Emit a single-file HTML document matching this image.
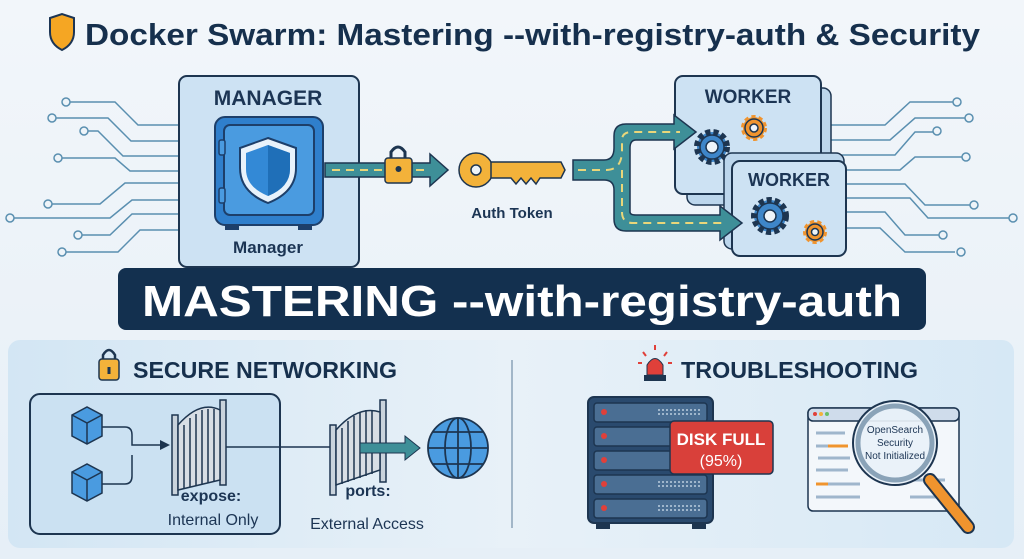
<!DOCTYPE html>
<html><head><meta charset="utf-8"><style>
html,body{margin:0;padding:0;width:1024px;height:559px;overflow:hidden;background:#eef4f9}
svg{display:block}
text{font-family:"Liberation Sans",sans-serif;font-weight:bold}
</style></head><body>
<svg width="1024" height="559" viewBox="0 0 1024 559" xmlns="http://www.w3.org/2000/svg">
<defs>
<linearGradient id="bg" x1="0" y1="0" x2="0" y2="1"><stop offset="0" stop-color="#f2f6fa"/><stop offset="1" stop-color="#e6eff7"/></linearGradient>
<linearGradient id="pn" x1="0" y1="0" x2="1" y2="0"><stop offset="0" stop-color="#d3e6f4"/><stop offset="0.5" stop-color="#e8f1f8"/><stop offset="1" stop-color="#d6e8f5"/></linearGradient>
</defs>
<rect width="1024" height="559" fill="url(#bg)"/>
<!-- title -->
<path d="M50 18 L62 14 L74 18 L74 32 Q74 44 62 50 Q50 44 50 32 Z" fill="#f5a623" stroke="#1c3554" stroke-width="2"/>
<text x="85" y="45" font-size="31" fill="#16304d" textLength="895" lengthAdjust="spacingAndGlyphs">Docker Swarm: Mastering --with-registry-auth &amp; Security</text>
<!-- left circuits -->
<g stroke="#5a8fb0" stroke-width="1.5" fill="none">
<path d="M66 102 H115 L138 125 H178"/><path d="M52 118 H108 L131 141 H178"/><path d="M84 131 H98 L123 156 H178"/>
<path d="M58 158 H115 L130 171 H178"/><path d="M48 204 H100 L125 183 H178"/><path d="M12 218 H110 L132 200 H178"/>
<path d="M78 235 H110 L132 214 H178"/><path d="M62 252 H118 L140 230 H178"/>
</g>
<g fill="#eef4f9" stroke="#5a8fb0" stroke-width="1.5">
<circle cx="66" cy="102" r="4"/><circle cx="52" cy="118" r="4"/><circle cx="84" cy="131" r="4"/><circle cx="58" cy="158" r="4"/><circle cx="48" cy="204" r="4"/><circle cx="10" cy="218" r="4"/><circle cx="78" cy="235" r="4"/><circle cx="62" cy="252" r="4"/>
</g>
<!-- right circuits -->
<g stroke="#5a8fb0" stroke-width="1.5" fill="none">
<path d="M830 125 H885 L910 102 H955"/><path d="M830 140 H890 L915 118 H967"/><path d="M830 155 H895 L915 132 H935"/>
<path d="M845 170 H900 L915 157 H965"/><path d="M845 184 H905 L925 205 H972"/><path d="M845 198 H910 L928 218 H1010"/>
<path d="M845 212 H885 L905 235 H940"/><path d="M845 228 H880 L905 252 H955"/>
</g>
<g fill="#eef4f9" stroke="#5a8fb0" stroke-width="1.5">
<circle cx="957" cy="102" r="4"/><circle cx="969" cy="118" r="4"/><circle cx="937" cy="131" r="4"/><circle cx="966" cy="157" r="4"/><circle cx="974" cy="205" r="4"/><circle cx="1013" cy="218" r="4"/><circle cx="943" cy="235" r="4"/><circle cx="961" cy="252" r="4"/>
</g>
<!-- manager -->
<rect x="179" y="76" width="180" height="191" rx="8" fill="#cde2f3" stroke="#1d3550" stroke-width="2"/>
<text x="268" y="105" font-size="21" fill="#1c3554" text-anchor="middle">MANAGER</text>
<rect x="215" y="117" width="108" height="108" rx="10" fill="#2f7fcc" stroke="#1d3f6a" stroke-width="2"/>
<rect x="224" y="125" width="90" height="90" rx="6" fill="#4a9be0" stroke="#1d3f6a" stroke-width="2"/>
<rect x="219" y="140" width="6" height="15" rx="2" fill="#4a9be0" stroke="#1d3f6a" stroke-width="1.5"/>
<rect x="219" y="188" width="6" height="15" rx="2" fill="#4a9be0" stroke="#1d3f6a" stroke-width="1.5"/>
<rect x="225" y="225" width="14" height="5" fill="#1d3f6a"/><rect x="298" y="225" width="14" height="5" fill="#1d3f6a"/>
<path d="M268 138 L296 148 L296 168 Q296 192 268 203 Q240 192 240 168 L240 148 Z" fill="#e8f2fb" stroke="#1d3f6a" stroke-width="2"/>
<path d="M268 145 L290 153 L290 169 Q290 187 268 196 Q246 187 246 169 L246 153 Z" fill="#3389d6"/>
<path d="M268 145 L290 153 L290 169 Q290 187 268 196 Z" fill="#1f6fb8"/>
<text x="268" y="253" font-size="17" fill="#1c3554" text-anchor="middle">Manager</text>
<!-- arrow to key -->
<path d="M325 163 H430 V154 L448 170 L430 186 V177 H325 Z" fill="#3e8f98" stroke="#1d3550" stroke-width="1.5"/>
<path d="M332 170 H430" stroke="#e9d67a" stroke-width="2" stroke-dasharray="8 6"/>
<path d="M391 160 V152 Q398 142 405 152 V160" fill="none" stroke="#1d3550" stroke-width="3"/>
<rect x="385" y="158" width="27" height="25" rx="3" fill="#f3b23a" stroke="#1d3550" stroke-width="1.5"/>
<circle cx="398.5" cy="169" r="3" fill="#1d3550"/>
<!-- key -->
<circle cx="476" cy="170" r="17" fill="#f3b23a" stroke="#1d3550" stroke-width="1.5"/>
<circle cx="476" cy="170" r="5" fill="#eef4f9" stroke="#1d3550" stroke-width="1.5"/>
<path d="M491 162 H561 L565 170 L561 178 H540 L536 184 L531 178 L526 184 L521 178 L516 184 L511 178 H491 Z" fill="#f3b23a" stroke="#1d3550" stroke-width="1.5"/>
<text x="512" y="218" font-size="15" fill="#1c3554" text-anchor="middle">Auth Token</text>
<!-- workers -->
<rect x="687" y="88" width="144" height="117" rx="8" fill="#bcd6ec" stroke="#1d3550" stroke-width="1.5"/>
<rect x="675" y="76" width="146" height="118" rx="8" fill="#cde2f3" stroke="#1d3550" stroke-width="2"/>
<text x="748" y="103" font-size="19" fill="#1c3554" text-anchor="middle">WORKER</text>
<g stroke="#1d3550" stroke-width="1.5">
<circle cx="712" cy="147" r="15" fill="#3e86c9" stroke-dasharray="5 3" stroke-width="6"/><circle cx="712" cy="147" r="12" fill="#3e86c9"/><circle cx="712" cy="147" r="6" fill="#eef4f9"/>
<circle cx="754" cy="128" r="11" fill="#f0942e" stroke="#f0942e" stroke-width="4" stroke-dasharray="4 3"/><circle cx="754" cy="128" r="9" fill="#f0942e"/><circle cx="754" cy="128" r="4" fill="#eef4f9"/>
</g>
<rect x="724" y="153" width="120" height="96" rx="8" fill="#bcd6ec" stroke="#1d3550" stroke-width="1.5"/>
<rect x="732" y="161" width="114" height="95" rx="8" fill="#cde2f3" stroke="#1d3550" stroke-width="2"/>
<text x="789" y="186" font-size="18" fill="#1c3554" text-anchor="middle">WORKER</text>
<g stroke="#1d3550" stroke-width="1.5">
<circle cx="770" cy="216" r="16" fill="#3e86c9" stroke-dasharray="5 3" stroke-width="6"/><circle cx="770" cy="216" r="13" fill="#3e86c9"/><circle cx="770" cy="216" r="6" fill="#eef4f9"/>
<circle cx="815" cy="232" r="10" fill="#f0942e" stroke="#f0942e" stroke-width="4" stroke-dasharray="4 3"/><circle cx="815" cy="232" r="8" fill="#f0942e"/><circle cx="815" cy="232" r="3.5" fill="#eef4f9"/>
</g>
<!-- road (on top) -->
<path d="M573 160 H604 Q614 160 614 148 V136 Q614 124 626 124 H674 V115 L696 132 L674 149 V140 H636 Q630 140 630 148 V212 Q630 215 636 215 H720 V206 L742 223 L720 240 V231 H626 Q614 231 614 219 V190 Q614 180 604 180 H573 Z" fill="#3e8f98" stroke="#1d3550" stroke-width="1.5"/>
<path d="M578 170 H606 Q622 170 622 150 V140 Q622 132 632 132 H680 M622 170 V212 Q622 223 633 223 H722" stroke="#e9d67a" stroke-width="2" stroke-dasharray="8 6" fill="none"/>
<!-- banner -->
<rect x="118" y="268" width="808" height="62" rx="8" fill="#13304f"/>
<text x="522" y="316" font-size="44" fill="#ffffff" text-anchor="middle" textLength="760" lengthAdjust="spacingAndGlyphs">MASTERING --with-registry-auth</text>
<!-- bottom panel -->
<rect x="8" y="340" width="1006" height="208" rx="12" fill="url(#pn)"/>
<line x1="512" y1="360" x2="512" y2="528" stroke="#8aa3b8" stroke-width="1.5"/>
<!-- secure networking -->
<path d="M103 360 V355 Q109 345 115 355 V360" fill="none" stroke="#1d3550" stroke-width="2.5"/>
<rect x="99" y="359" width="20" height="21" rx="3" fill="#f3b23a" stroke="#1d3550" stroke-width="1.5"/>
<rect x="107.5" y="367" width="3" height="7" fill="#1d3550"/>
<text x="133" y="378" font-size="23" fill="#16304d" textLength="264" lengthAdjust="spacingAndGlyphs">SECURE NETWORKING</text>
<rect x="30" y="394" width="250" height="140" rx="10" fill="#cbe1f2" stroke="#1d3550" stroke-width="2"/>
<g stroke="#1d3550" stroke-width="1.5">
<path d="M72 415 L87 407 L102 415 L102 436 L87 444 L72 436 Z" fill="#4a9be0"/><path d="M72 415 L87 423 L102 415 M87 423 V444" fill="none"/>
<path d="M72 472 L87 464 L102 472 L102 493 L87 501 L72 493 Z" fill="#4a9be0"/><path d="M72 472 L87 480 L102 472 M87 480 V501" fill="none"/>
</g>
<path d="M102 427 H125 Q132 427 132 435 V445 H168 M102 484 H125 Q132 484 132 476 V455" fill="none" stroke="#1d3550" stroke-width="1.5"/>
<path d="M160 440 L170 445 L160 450 Z" fill="#1d3550"/>
<g stroke="#1d3550" stroke-width="1.5" fill="#c9d3dc">
<rect x="172" y="415" width="6" height="80"/><rect x="220" y="400" width="6" height="85"/>
<path d="M178 425 Q200 400 220 410 V480 L178 490 Z" fill="#d8dee5"/>
<path d="M184 425 V488 M190 418 V487 M196 414 V486 M202 410 V484 M208 409 V483 M214 409 V482" fill="none"/>
<rect x="330" y="425" width="6" height="70"/><rect x="380" y="400" width="6" height="82"/>
<path d="M336 430 Q358 405 380 412 V470 L336 485 Z" fill="#d8dee5"/>
<path d="M342 428 V484 M348 421 V482 M354 416 V480 M360 412 V478 M366 410 V476 M372 410 V474" fill="none"/>
</g>
<line x1="226" y1="447" x2="330" y2="447" stroke="#1d3550" stroke-width="1.5"/>
<path d="M360 443 H405 V436 L420 448 L405 460 V453 H360 Z" fill="#3e8f98" stroke="#1d3550" stroke-width="1"/>
<g stroke="#1d3550" stroke-width="1.8" fill="none">
<circle cx="458" cy="448" r="30" fill="#4a9be0"/><ellipse cx="458" cy="448" rx="13" ry="30"/><line x1="428" y1="448" x2="488" y2="448"/><line x1="458" y1="418" x2="458" y2="478"/><path d="M433 432 H483 M433 464 H483"/>
</g>
<text x="211" y="501" font-size="16" fill="#1c3554" text-anchor="middle">expose:</text>
<text x="213" y="525" font-size="16" fill="#1c3554" text-anchor="middle" style="font-weight:normal">Internal Only</text>
<text x="368" y="496" font-size="16" fill="#1c3554" text-anchor="middle">ports:</text>
<text x="367" y="529" font-size="16" fill="#1c3554" text-anchor="middle" style="font-weight:normal">External Access</text>
<!-- troubleshooting -->
<path d="M647 375 V365 Q655 352 663 365 V375 Z" fill="#e0403a" stroke="#1d3550" stroke-width="1"/>
<rect x="644" y="375" width="22" height="6" fill="#1d3550"/>
<path d="M655 345 V350 M643 352 L646 356 M667 352 L664 356 M638 363 H642 M668 363 H672" stroke="#e0403a" stroke-width="2"/>
<text x="681" y="378" font-size="23" fill="#16304d" textLength="237" lengthAdjust="spacingAndGlyphs">TROUBLESHOOTING</text>
<rect x="588" y="397" width="125" height="126" rx="6" fill="#2a4a6e" stroke="#1d3550" stroke-width="2"/>
<g fill="#4a6e93" stroke="#1d3550" stroke-width="1.5">
<rect x="594" y="403" width="113" height="19" rx="3"/><rect x="594" y="427" width="113" height="19" rx="3"/><rect x="594" y="451" width="113" height="19" rx="3"/><rect x="594" y="475" width="113" height="19" rx="3"/><rect x="594" y="499" width="113" height="19" rx="3"/>
</g>
<g fill="#e0403a"><circle cx="604" cy="412" r="3"/><circle cx="604" cy="436" r="3"/><circle cx="604" cy="460" r="3"/><circle cx="604" cy="484" r="3"/><circle cx="604" cy="508" r="3"/></g>
<g stroke="#9fb6cc" stroke-width="2" stroke-dasharray="2 2"><path d="M658 410 H702 M658 414 H702 M658 482 H702 M658 486 H702 M658 506 H702 M658 510 H702"/></g>
<rect x="596" y="523" width="14" height="6" fill="#1d3550"/><rect x="692" y="523" width="14" height="6" fill="#1d3550"/>
<rect x="670" y="421" width="103" height="53" rx="4" fill="#d9403a" stroke="#1d3550" stroke-width="1.5"/>
<text x="721" y="445" font-size="17" fill="#ffffff" text-anchor="middle">DISK FULL</text>
<text x="721" y="466" font-size="16" fill="#ffffff" text-anchor="middle" style="font-weight:normal">(95%)</text>
<rect x="808" y="408" width="151" height="103" rx="5" fill="#f3f7fb" stroke="#1d3550" stroke-width="1.5"/>
<rect x="808" y="408" width="151" height="13" rx="5" fill="#cfdceb" stroke="#1d3550" stroke-width="1.5"/>
<circle cx="815" cy="414" r="2" fill="#e0403a"/><circle cx="821" cy="414" r="2" fill="#f3b23a"/><circle cx="827" cy="414" r="2" fill="#6abf69"/>
<g stroke="#9fb6cc" stroke-width="3"><path d="M816 433 H845 M816 446 H840 M818 458 H850 M816 470 H848 M820 484 H860 M816 497 H860 M900 480 H945 M910 497 H940"/></g>
<g stroke="#f0942e" stroke-width="3"><path d="M828 446 H848 M816 484 H828"/></g>
<path d="M930 480 L968 527" stroke="#1d3550" stroke-width="14" stroke-linecap="round"/>
<path d="M930 480 L968 527" stroke="#f0942e" stroke-width="10" stroke-linecap="round"/>
<circle cx="895" cy="443" r="42" fill="#e9f1f8" fill-opacity="0.92" stroke="#1d3550" stroke-width="2"/>
<circle cx="895" cy="443" r="37" fill="none" stroke="#8aa3b8" stroke-width="5"/>
<text x="895" y="433" font-size="10" fill="#1c3554" text-anchor="middle" style="font-weight:normal">OpenSearch</text>
<text x="895" y="446" font-size="10" fill="#1c3554" text-anchor="middle" style="font-weight:normal">Security</text>
<text x="895" y="459" font-size="10" fill="#1c3554" text-anchor="middle" style="font-weight:normal">Not Initialized</text>
</svg>
</body></html>
